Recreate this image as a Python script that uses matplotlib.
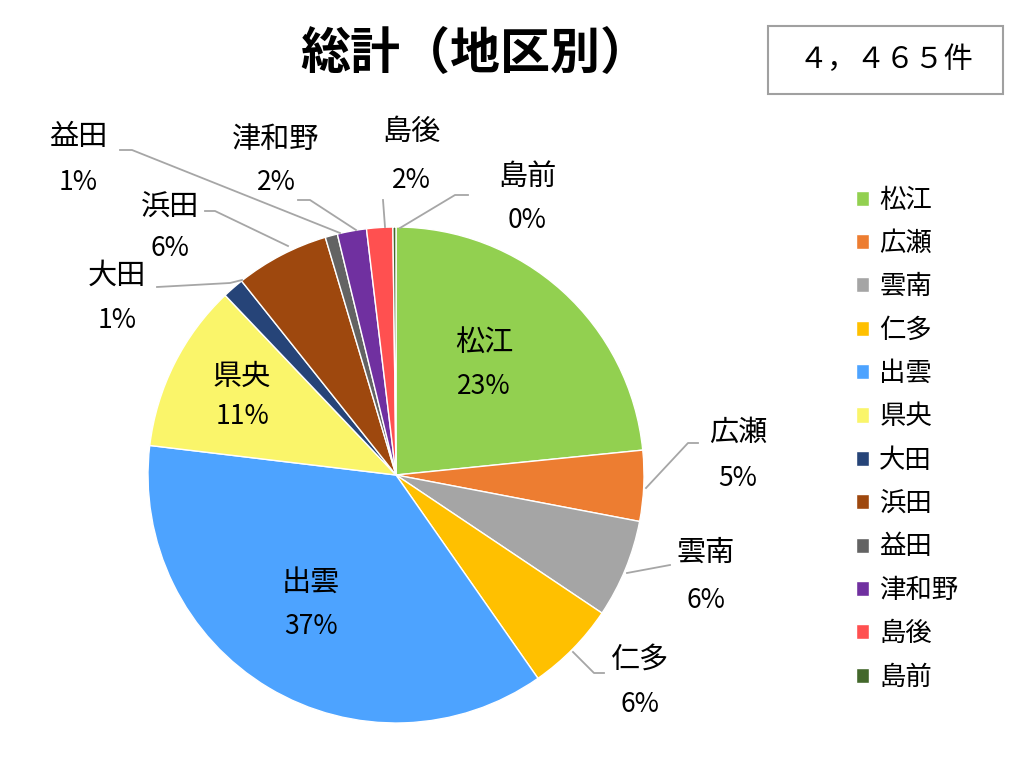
import matplotlib.pyplot as plt
from matplotlib.patches import Rectangle

plt.rcParams['font.family'] = ['Noto Sans CJK JP', 'DejaVu Sans']

# data (share of cases in %)
regions = ['松江', '広瀬', '雲南', '仁多', '出雲', '県央', '大田', '浜田', '益田', '津和野', '島後', '島前']
shares = [23.4, 4.6, 6.4, 5.9, 36.6, 11.0, 1.4, 6.1, 0.8, 1.9, 1.7, 0.2]
colors = ['#92D050', '#ED7D31', '#A5A5A5', '#FFC000', '#4DA3FF', '#FAF56A',
          '#264478', '#9E480E', '#636363', '#7030A0', '#FF5050', '#43682B']
title = '総計（地区別）'
total_label = '４，４６５件'

# layout, in pixels of the 1036x782 picture
W, H = 1036, 782
CX, CY, R = 396, 475, 248
label_pos = {
    '松江': (484, 343), '広瀬': (738, 433), '雲南': (706, 553), '仁多': (640, 660),
    '出雲': (311, 583), '県央': (242, 377), '大田': (117, 276), '浜田': (170, 208),
    '益田': (78, 137), '津和野': (276, 140), '島後': (411, 132), '島前': (527, 177),
}
pct_dy = {'松江': 44, '出雲': 44, '県央': 40, '大田': 45, '浜田': 41, '益田': 46,
          '津和野': 43, '島後': 48, '島前': 43, '広瀬': 45, '雲南': 47, '仁多': 45}
leaders = {
    '広瀬': [(646, 488), (688, 443), (698, 443)],
    '雲南': [(627, 573), (670, 565)],
    '仁多': [(573, 652), (594, 673), (604, 673)],
    '大田': [(157, 287), (230, 283), (242, 280)],
    '浜田': [(205, 211), (215, 211), (288, 246)],
    '益田': [(120, 150), (132, 150), (340, 233)],
    '津和野': [(298, 200), (310, 200), (356, 230)],
    '島後': [(383, 200), (385, 227)],
    '島前': [(400, 228), (455, 195), (468, 195)],
}


def px(x, y):
    '''pixel position -> data coords of the pie axes'''
    return (x - CX) / R, (CY - y) / R


fig = plt.figure(figsize=(W / 100, H / 100), dpi=100)
half = 300
ax = fig.add_axes([(CX - half) / W, (H - CY - half) / H, 2 * half / W, 2 * half / H])

wedges, _ = ax.pie(shares, colors=colors, startangle=90, counterclock=False, radius=1,
                   wedgeprops=dict(edgecolor='white', linewidth=1))
# pie() autoscales, so fix the limits afterwards
ax.set_xlim(-half / R, half / R)
ax.set_ylim(-half / R, half / R)
ax.set_aspect('auto')
ax.axis('off')

for name, val in zip(regions, shares):
    x, y = label_pos[name]
    ax.text(*px(x, y), name, ha='center', va='center', fontsize=21)
    ax.text(*px(x, y + pct_dy[name]), f'{round(val)}%', ha='center', va='center', fontsize=19)
    if name in leaders:
        pts = [px(a, b) for a, b in leaders[name]]
        ax.plot([p[0] for p in pts], [p[1] for p in pts], color='#A6A6A6', lw=1.3, clip_on=False)

# title and total box
fig.text(475 / W, 1 - 55 / H, title, ha='center', va='center', fontsize=36, fontweight='bold')
fig.patches.append(Rectangle((768 / W, 1 - 94 / H), 235 / W, 68 / H, transform=fig.transFigure,
                             facecolor='white', edgecolor='#A0A0A0', lw=1.5))
fig.text(886 / W, 1 - 60 / H, total_label, ha='center', va='center', fontsize=21)

fig.legend(wedges, regions, loc='upper left', bbox_to_anchor=(845 / W, 1 - 176 / H),
           frameon=False, fontsize=19, handlelength=0.5, handleheight=0.5,
           handletextpad=0.4, labelspacing=0.62, borderaxespad=0)

fig.savefig('out.png', dpi=100)
